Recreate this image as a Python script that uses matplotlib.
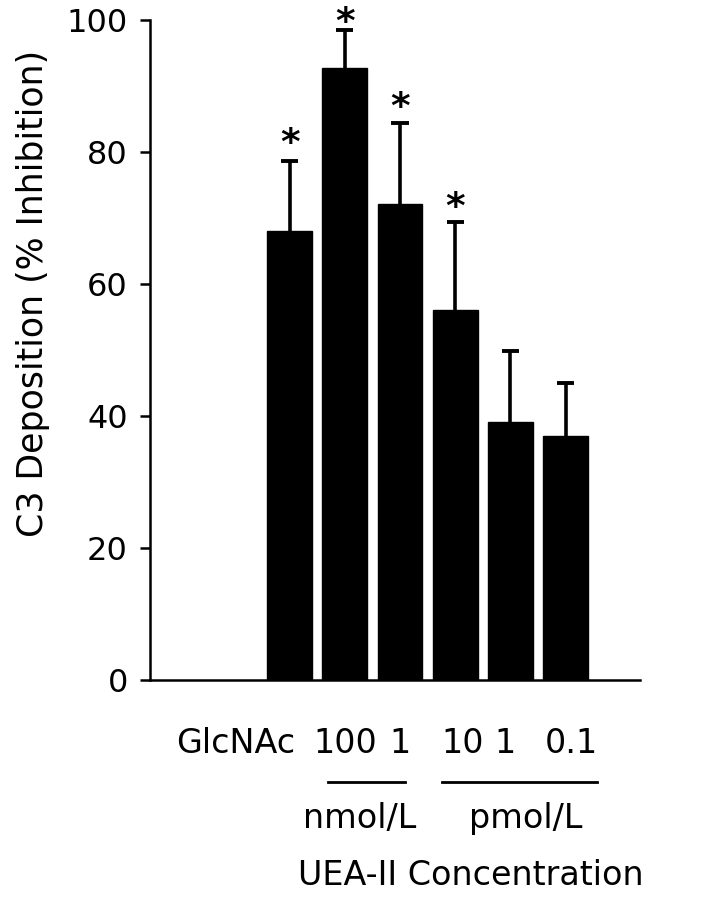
import matplotlib.pyplot as plt
import numpy as np

plt.rcParams['font.family'] = ['DejaVu Sans']

# data
groups = ["GlcNAc", "100", "1", "10", "1", "0.1"]
inhibition = [68.0, 92.7, 72.1, 56.1, 39.1, 37.0]
err_up = [10.6, 5.8, 12.3, 13.3, 10.7, 8.0]
# asterisks: which bars, and the level (in % units) where each one sits
star_idx = [0, 1, 2, 3]
star_level = [82.9, 101.2, 88.3, 73.2]

conc_labels = ["100", "1", "10", "1", "0.1"]
conc_x = [1.0, 2.0, 3.14, 3.9, 5.1]
unit_labels = ["nmol/L", "pmol/L"]
unit_x = [1.26, 4.28]
unit_spans = [(0.70, 2.09), (2.76, 5.57)]

fig = plt.figure(figsize=(7.07, 8.99), dpi=100)
ax = fig.add_axes([0.2122, 0.2436, 0.6931, 0.7342])

x = np.arange(len(inhibition))
y = np.array(inhibition)
e = np.array(err_up)
ax.bar(x, y, width=0.815, color='black', edgecolor='black', zorder=2)
# upper error bars only
ax.vlines(x, y, y + e, color='black', lw=2.6, zorder=1)
ax.hlines(y + e, x - 0.155, x + 0.155, color='black', lw=2.8, zorder=1)

for i, lev in zip(star_idx, star_level):
    ax.annotate("*", (x[i], lev), xytext=(0, -15), textcoords='offset points',
                ha='center', va='baseline', fontsize=27, fontweight='bold',
                annotation_clip=False)

ax.set_xlim(-2.53, 6.35)
ax.set_ylim(0, 100)
ax.set_yticks([0, 20, 40, 60, 80, 100])
ax.tick_params(axis='y', labelsize=23, length=7, width=1.8, direction='out', pad=9)
ax.set_xticks([])
for s in ['top', 'right']:
    ax.spines[s].set_visible(False)
for s in ['left', 'bottom']:
    ax.spines[s].set_linewidth(1.8)

ax.set_ylabel("C3 Deposition (% Inhibition)", fontsize=25)
ax.yaxis.set_label_coords(-0.205, 0.585)

# labels under the axis
tr = ax.get_xaxis_transform()
ax.text(0.10, -0.1106, groups[0], transform=tr, ha='right', va='baseline', fontsize=24)
for lab, xx in zip(conc_labels, conc_x):
    ax.text(xx, -0.1106, lab, transform=tr, ha='center', va='baseline', fontsize=24)
for (a, b) in unit_spans:
    ax.plot([a, b], [-0.1545, -0.1545], transform=tr, color='black', lw=2.0,
            clip_on=False)
for lab, xx in zip(unit_labels, unit_x):
    ax.text(xx, -0.2242, lab, transform=tr, ha='center', va='baseline', fontsize=24)
ax.text(0.15, -0.3106, "UEA-II Concentration", transform=tr, ha='left',
        va='baseline', fontsize=24)

fig.savefig("out.png", dpi=100)
